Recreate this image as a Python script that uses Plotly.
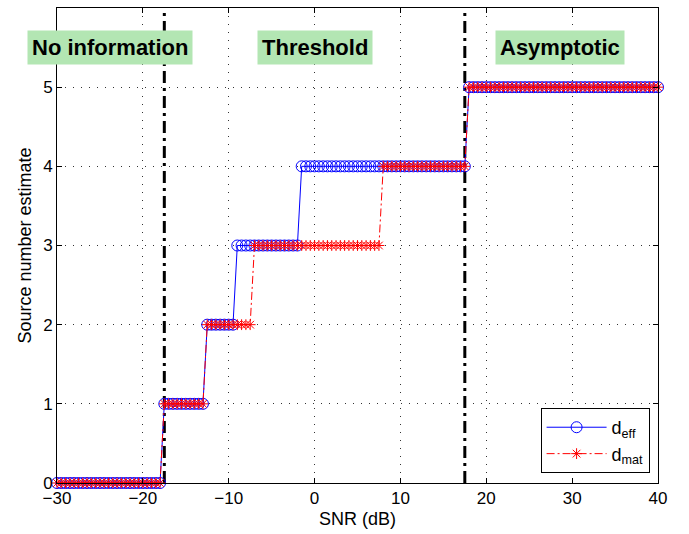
import numpy as np
import plotly.graph_objects as go

# SNR grid (dB)
snr_min, snr_max, snr_step = -30, 40, 0.5

# Step levels and the SNR at which each level starts
levels = [0, 1, 2, 3, 4, 5]
d_eff_start = [-30, -17.5, -12.5, -9, -1.5, 18]
d_mat_start = [-30, -17.5, -12.5, -7, 8, 18]

# Region boundaries (dB)
boundaries = [-17.5, 17.5]

# Region labels
region_labels = ["No information", "Threshold", "Asymptotic"]
region_x = [-23.8, 0, 28.6]
region_y = 5.5

x_ticks = [-30, -20, -10, 0, 10, 20, 30, 40]
y_ticks = [0, 1, 2, 3, 4, 5, 6]

snr = np.arange(snr_min, snr_max + snr_step / 2, snr_step)


def steps(starts):
    out = np.zeros_like(snr)
    for lv, s in zip(levels, starts):
        out[snr >= s - 1e-9] = lv
    return out


d_eff = steps(d_eff_start)
d_mat = steps(d_mat_start)

FONT = "Liberation Sans, Arial, Helvetica, sans-serif"

fig = go.Figure()

for b in boundaries:
    fig.add_trace(go.Scatter(
        x=[b, b], y=[0, 6], mode="lines", showlegend=False, hoverinfo="skip",
        line=dict(color="black", width=3, dash="12px,5px,3px,5px")))

fig.add_trace(go.Scatter(
    x=snr, y=d_eff, mode="lines+markers", name="d<sub>eff</sub>",
    cliponaxis=False,
    line=dict(color="#0000ff", width=1),
    marker=dict(symbol="circle-open", size=11, color="#0000ff",
                line=dict(color="#0000ff", width=1))))

fig.add_trace(go.Scatter(
    x=snr, y=d_mat, mode="lines+markers", name="d<sub>mat</sub>",
    cliponaxis=False,
    line=dict(color="#ff0000", width=1, dash="8px,3px,2px,3px"),
    marker=dict(symbol="asterisk-open", size=9, color="#ff0000",
                line=dict(color="#ff0000", width=1))))

for txt, xx in zip(region_labels, region_x):
    fig.add_annotation(
        x=xx, y=region_y, xref="x", yref="y", text="<b>" + txt + "</b>",
        showarrow=False, bgcolor="#b3e6b3", borderpad=4,
        font=dict(family=FONT, size=22, color="black"))

axis_common = dict(
    showline=True, linecolor="black", linewidth=1, mirror="ticks",
    ticks="inside", ticklen=5, tickcolor="black",
    showgrid=True, gridcolor="#333333", gridwidth=1, griddash="1px,7px",
    zeroline=False,
    tickfont=dict(family=FONT, size=17, color="black"),
)

fig.update_xaxes(range=[snr_min, snr_max], tickvals=x_ticks,
                 title=dict(text="SNR (dB)", standoff=4,
                            font=dict(family=FONT, size=18, color="black")),
                 **axis_common)
fig.update_yaxes(range=[0, 6], tickvals=y_ticks,
                 title=dict(text="Source number estimate", standoff=6,
                            font=dict(family=FONT, size=18, color="black")),
                 **axis_common)

fig.update_layout(
    width=689, height=534,
    margin=dict(l=57, r=31, t=8, b=51),
    plot_bgcolor="white", paper_bgcolor="white",
    legend=dict(x=0.986, y=0.021, xanchor="right", yanchor="bottom",
                bgcolor="white", bordercolor="black", borderwidth=1,
                font=dict(family=FONT, size=18, color="black"),
                itemwidth=60),
)

fig.write_html("out.html")
